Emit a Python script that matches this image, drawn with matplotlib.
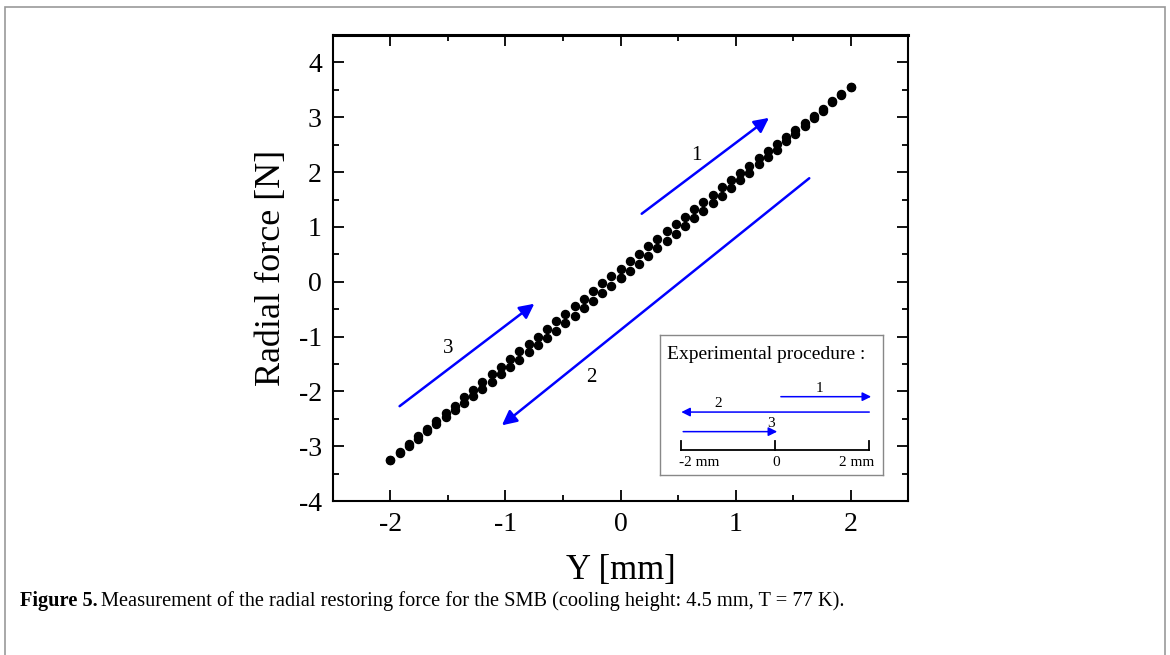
import matplotlib.pyplot as plt
from matplotlib.patches import Rectangle

plt.rcParams['font.family'] = ['Liberation Serif', 'DejaVu Serif']
plt.rcParams['axes.unicode_minus'] = False

# path 1: 0 -> 2 mm
x_path1 = [0.00, 0.08, 0.16, 0.24, 0.32, 0.40, 0.48, 0.56, 0.64, 0.72, 0.80, 0.88, 0.96,
           1.04, 1.12, 1.20, 1.28, 1.36, 1.44, 1.52, 1.60, 1.68, 1.76, 1.84, 1.92, 2.00]
f_path1 = [0.06, 0.20, 0.33, 0.47, 0.61, 0.74, 0.88, 1.02, 1.16, 1.29, 1.44, 1.57, 1.71,
           1.85, 1.99, 2.14, 2.27, 2.41, 2.56, 2.69, 2.84, 2.98, 3.12, 3.27, 3.40, 3.55]

# path 2: 2 -> -2 mm
x_path2 = [2.00, 1.92, 1.84, 1.76, 1.68, 1.60, 1.52, 1.44, 1.36, 1.28, 1.20, 1.12, 1.04,
           0.96, 0.88, 0.80, 0.72, 0.64, 0.56, 0.48, 0.40, 0.32, 0.24, 0.16, 0.08, 0.00,
           -0.08, -0.16, -0.24, -0.32, -0.40, -0.48, -0.56, -0.64, -0.72, -0.80, -0.88,
           -0.96, -1.04, -1.12, -1.20, -1.28, -1.36, -1.44, -1.52, -1.60, -1.68, -1.76,
           -1.84, -1.92, -2.00]
f_path2 = [3.55, 3.42, 3.29, 3.16, 3.03, 2.90, 2.77, 2.64, 2.51, 2.38, 2.25, 2.12, 1.98,
           1.85, 1.72, 1.59, 1.45, 1.32, 1.19, 1.05, 0.92, 0.78, 0.65, 0.51, 0.38, 0.24,
           0.10, -0.03, -0.17, -0.31, -0.44, -0.58, -0.72, -0.86, -1.00, -1.13, -1.27,
           -1.41, -1.55, -1.69, -1.83, -1.97, -2.11, -2.26, -2.40, -2.54, -2.68, -2.82,
           -2.96, -3.11, -3.25]

# path 3: -2 -> 0 mm
x_path3 = [-2.00, -1.92, -1.84, -1.76, -1.68, -1.60, -1.52, -1.44, -1.36, -1.28, -1.20,
           -1.12, -1.04, -0.96, -0.88, -0.80, -0.72, -0.64, -0.56, -0.48, -0.40, -0.32,
           -0.24, -0.16, -0.08, 0.00]
f_path3 = [-3.25, -3.12, -2.99, -2.86, -2.73, -2.60, -2.47, -2.34, -2.21, -2.08, -1.95,
           -1.82, -1.68, -1.55, -1.42, -1.29, -1.15, -1.02, -0.89, -0.75, -0.62, -0.48,
           -0.35, -0.21, -0.08, 0.06]

fig = plt.figure(figsize=(11.7, 6.55), dpi=100)
fig.patches.append(Rectangle((0.004, -0.05), 0.992, 1.04, transform=fig.transFigure,
                             fill=False, edgecolor='#999999', lw=1.2))

ax = fig.add_axes([0.2846, 0.235, 0.4915, 0.7115])
for xs, fs in [(x_path1, f_path1), (x_path2, f_path2), (x_path3, f_path3)]:
    ax.plot(xs, fs, 'o', color='black', ms=5.8, mec='black')

ax.set_xlim(-2.5, 2.5)
ax.set_ylim(-4, 4.5)
ax.set_xticks([-2, -1, 0, 1, 2])
ax.set_yticks([-4, -3, -2, -1, 0, 1, 2, 3, 4])
ax.set_xticks([-2.5, -1.5, -0.5, 0.5, 1.5, 2.5], minor=True)
ax.set_yticks([-3.5, -2.5, -1.5, -0.5, 0.5, 1.5, 2.5, 3.5], minor=True)
ax.tick_params(which='both', direction='in', top=True, right=True, labelsize=20, width=1.3)
ax.tick_params(which='major', length=8, pad=8)
ax.tick_params(which='minor', length=4)
for s in ax.spines.values():
    s.set_linewidth(1.5)
ax.spines['top'].set_linewidth(2.2)
ax.set_xlabel('Y [mm]', fontsize=25, labelpad=12)
ax.set_ylabel('Radial force [N]', fontsize=26, labelpad=8)

arrow = dict(arrowstyle='-|>', color='blue', lw=1.8, mutation_scale=22)
ax.annotate('', xy=(1.31, 3.02), xytext=(0.165, 1.21), arrowprops=arrow)
ax.annotate('', xy=(-1.05, -2.65), xytext=(1.66, 1.92), arrowprops=arrow)
ax.annotate('', xy=(-0.73, -0.37), xytext=(-1.94, -2.30), arrowprops=arrow)
ax.text(0.66, 2.31, '1', fontsize=15, ha='center', va='center')
ax.text(-0.25, -1.74, '2', fontsize=15, ha='center', va='center')
ax.text(-1.50, -1.21, '3', fontsize=15, ha='center', va='center')

# inset: experimental procedure
ins = ax.inset_axes([0.569, 0.056, 0.388, 0.3])
ins.set_xlim(-2.45, 2.3)
ins.set_ylim(0, 1)
ins.set_xticks([])
ins.set_yticks([])
for s in ins.spines.values():
    s.set_edgecolor('#888888')
    s.set_linewidth(1.0)
ins.text(-2.3, 0.86, 'Experimental procedure :', fontsize=14, va='center')
ins.plot([-2, 2], [0.18, 0.18], color='black', lw=1.3)
for t in [-2, 0, 2]:
    ins.plot([t, t], [0.18, 0.24], color='black', lw=1.3)
ins.text(-2.05, 0.09, '-2 mm', fontsize=11, ha='left', va='center')
ins.text(0.02, 0.09, '0', fontsize=11, ha='center', va='center')
ins.text(2.1, 0.09, '2 mm', fontsize=11, ha='right', va='center')
small = dict(arrowstyle='-|>', color='blue', lw=1.1, mutation_scale=13)
ins.annotate('', xy=(2.1, 0.56), xytext=(0.06, 0.56), arrowprops=small)
ins.annotate('', xy=(-2.06, 0.45), xytext=(2.06, 0.45), arrowprops=small)
ins.annotate('', xy=(0.1, 0.31), xytext=(-2.02, 0.31), arrowprops=small)
ins.text(0.95, 0.62, '1', fontsize=11, ha='center', va='center')
ins.text(-1.21, 0.51, '2', fontsize=11, ha='center', va='center')
ins.text(-0.1, 0.37, '3', fontsize=11, ha='center', va='center')

# caption: bold label followed by regular text
cap_y = 0.082
cap_bold = fig.text(0.017, cap_y, 'Figure 5.', fontsize=14.7, fontweight='bold',
                    va='center', ha='left')
renderer = fig.canvas.get_renderer()
bb = cap_bold.get_window_extent(renderer)
x_next = bb.x1 / fig.bbox.width + 0.003
fig.text(x_next, cap_y,
         'Measurement of the radial restoring force for the SMB (cooling height: 4.5 mm, T = 77 K).',
         fontsize=14.7, va='center', ha='left')
fig.savefig('out.png', dpi=100)
